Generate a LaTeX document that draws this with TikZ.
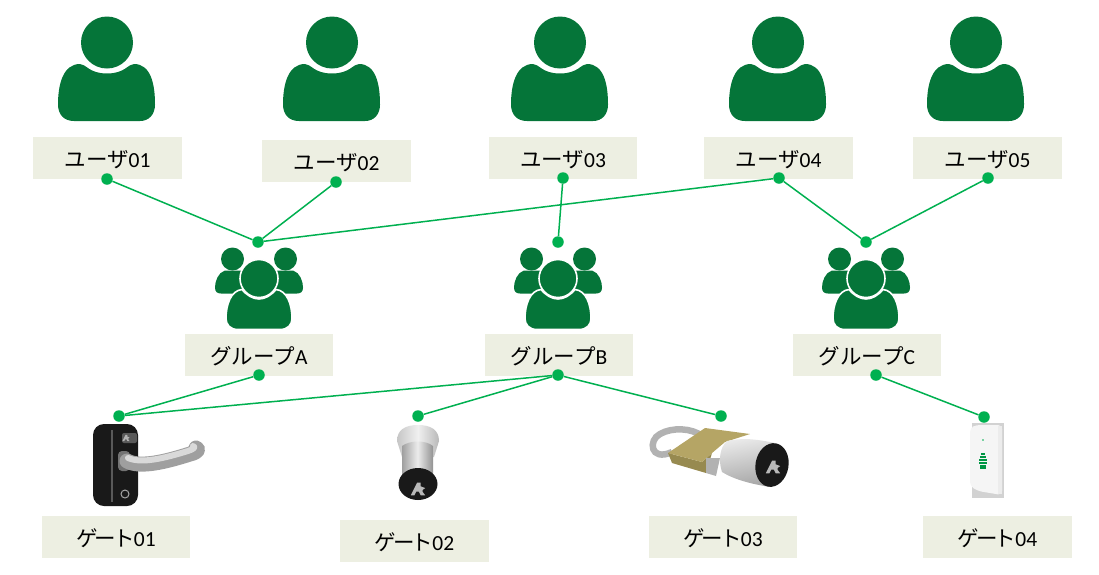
\documentclass[tikz,border=0pt]{standalone}
\usepackage{fontspec}
\setmainfont{Carlito}
\newfontfamily\cjk{Noto Sans CJK JP}
\definecolor{iconvert}{HTML}{057539}
\definecolor{lienvert}{HTML}{00B050}
\definecolor{fondbox}{HTML}{EDEFE2}
\definecolor{laiton}{HTML}{B5A565}
\definecolor{laitonf}{HTML}{978A50}
\tikzset{
  namebox/.style={fill=fondbox,minimum width=148.5pt,minimum height=42pt,inner sep=0pt,text height=20pt,text depth=2pt,font=\fontsize{21.5}{23}\selectfont},
  dot/.style={circle,fill=lienvert,minimum size=11.5pt,inner sep=0pt},
  link/.style={lienvert,line width=1.5pt},
  user/.pic={
    \fill[iconvert] (0,0) circle(26);
    \fill[iconvert] (-33,78.5) .. controls (-43,78.5) and (-49,72) .. (-49,62)
      .. controls (-49,42) and (-44,21.5) .. (-27,21.5)
      .. controls (-21,21.5) and (-18,31) .. (0,31)
      .. controls (18,31) and (21,21.5) .. (27,21.5)
      .. controls (44,21.5) and (48,42) .. (48,62)
      .. controls (48,72) and (42,78.5) .. (33,78.5) -- cycle;
  },
  team/.pic={
    % les deux de derriere
    \foreach \s in {-1,1}{
      \fill[iconvert] (\s*26.5,-19.5) circle(11.5);
      \fill[iconvert] (\s*10,-8) -- (\s*34,-8) .. controls (\s*41,-6) and (\s*44,3) .. (\s*44,9)
        .. controls (\s*44,13) and (\s*42,15) .. (\s*38,15) -- (\s*10,15) -- cycle;
    }
    \fill[iconvert,draw=white,line width=1.6pt] (0,0) circle(19);
    \fill[iconvert,draw=white,line width=1.6pt] (-21,51) .. controls (-29,51) and (-33,46) .. (-33,40)
      .. controls (-33,26) and (-28,12) .. (-17,11)
      .. controls (-12,17) and (-6,20.5) .. (0,20.5)
      .. controls (6,20.5) and (12,17) .. (17,11)
      .. controls (28,12) and (33,26) .. (33,40)
      .. controls (33,46) and (29,51) .. (21,51) -- cycle;
  },
  logoa/.pic={
    \fill[even odd rule] (-8,7) -- (-1,-7) -- (3,-7) -- (3,-3) -- (8,-1) -- (5,1) -- (5,3) -- (8,7) -- (3,7) -- (1,3) -- (-2,3) -- (-4,7) -- cycle;
  }
}
\newcommand{\kana}[2]{{\cjk #1}#2}
\newcommand{\gatename}{ゲ\kern-3pt ー\kern-3pt ト\kern-1pt}
\begin{document}
\begin{tikzpicture}[x=1pt,y=-1pt]
\useasboundingbox (0,0) rectangle (1099,574);
% icones
\foreach \x/\nom in {107/a,332/b,560/c,778/d,976/e}
    \pic (user\nom) at (\x,42.5) {user};
\foreach \x/\nom in {259/a,558/b,866/c}
    \pic (team\nom) at (\x,278.5) {team};
% etiquettes
\node[namebox] (user1) at (107.5,158) {\kana{ユーザ}{01}};
\node[namebox] (user2) at (336.5,161) {\kana{ユーザ}{02}};
\node[namebox] (user3) at (563,158) {\kana{ユーザ}{03}};
\node[namebox] (user4) at (778.5,158) {\kana{ユーザ}{04}};
\node[namebox] (user5) at (987.5,158) {\kana{ユーザ}{05}};
\node[namebox] (groupA) at (259,355) {\kana{グループ}{A}};
\node[namebox] (groupB) at (559,355) {\kana{グループ}{B}};
\node[namebox] (groupC) at (867,355) {\kana{グループ}{C}};
\node[namebox] (gate1) at (116,537) {\kana{\gatename}{01}};
\node[namebox] (gate2) at (414.5,541) {\kana{\gatename}{02}};
\node[namebox] (gate3) at (723,537) {\kana{\gatename}{03}};
\node[namebox] (gate4) at (997.5,537) {\kana{\gatename}{04}};
% poignee
\fill[black!90,rounded corners=11] (93,424) rectangle (138,506);
\fill[black!65] (111,430) rectangle (112.5,502);
\fill[black!65,rounded corners=2] (122,433) rectangle (137,443);
\pic[white!70!black,scale=.45] (logolever) at (126,438) {logoa};
\fill[black!55,rounded corners=4] (118,451) rectangle (130,471);
\draw[gray!75,line width=15pt,line cap=round,line join=round] (127,461) .. controls (140,468) and (165,462) .. (190,454) .. controls (198,452) and (199,449) .. (196,448);
\draw[gray!30,line width=6pt,line cap=round,line join=round] (128,458) .. controls (142,464) and (165,458) .. (188,451) .. controls (194,449) and (196,447) .. (193,446);
\draw[gray!70,line width=1pt] (125,494) circle(4);
% cylindre
\shade[left color=gray!45,right color=gray!55,middle color=gray!12] (397,441) .. controls (397,430) and (405,425) .. (418,425) .. controls (431,425) and (439,430) .. (439,441) -- (434,457) -- (402,457) -- cycle;
\shade[left color=gray!75,right color=gray!85,middle color=gray!15] (402,446) .. controls (410,440) and (426,440) .. (433,446) -- (433,482) -- (402,482) -- cycle;
\fill[black!90] (418,484) ellipse(19.5 and 16);
\pic[gray!55,scale=.9] (logocyl) at (418,489) {logoa};
% cadenas
\draw[gray!60,line width=6.5pt] (672,452) .. controls (650,462) and (648,440) .. (660,434) .. controls (672,427) and (692,428) .. (702,436);
\fill[laitonf] (668,453) -- (702,462) -- (712,453) -- (706,473) -- (672,463) -- cycle;
\fill[laiton] (668,453) -- (705,428) -- (750,434) -- (725,442) -- (712,453) -- (702,462) -- cycle;
\fill[gray!60] (706,458) -- (720,458) -- (716,476) -- (706,473) -- cycle;
\shade[top color=gray!15,bottom color=gray!70,shading angle=10] (727,441) .. controls (745,437) and (760,440) .. (775,443) -- (770,487) .. controls (752,484) and (735,480) .. (722,472) .. controls (718,460) and (720,447) .. (727,441) -- cycle;
\fill[black!90,rotate around={-10:(772,465)}] (772,465) ellipse(16.5 and 22);
\pic[gray!55,scale=.9] (logopad) at (773,467) {logoa};
% lecteur
\fill[gray!35] (972,423) rectangle (1004,498);
\fill[gray!8,rounded corners=4] (970,428) -- (976,425) -- (1002,425) -- (1002,495) -- (978,491) -- (970,486) -- cycle;
\fill[gray!15] (998,426) rectangle (1002,494);
\fill[lienvert] (983,440) circle(.9);
\foreach \y/\l in {453/2,456/3,459/4,462/4,465/3,467/3}
    \fill[lienvert!85!black] (983-\l,\y) rectangle (983+\l,\y+2);
% points
\foreach \nom/\x/\y in {pu1/107/179,pu2/336/182,pu3/563/178,pu4/779/178,pu5/988/178,
    pat/258/242,pbt/558/242,pct/866/242,pab/259/375,pbb/558/375,pcb/876/375,
    pg1/119/416,pg2/418/416,pg3/721/416,pg4/984/417}
    \node[dot] (\nom) at (\x,\y) {};
% liens
\foreach \a/\b in {pu1/pat,pu2/pat,pu4/pat,pu3/pbt,pu4/pct,pu5/pct,pab/pg1,pbb/pg1,pbb/pg2,pbb/pg3,pcb/pg4}
    \draw[link] (\a) -- (\b);
\end{tikzpicture}
\end{document}
